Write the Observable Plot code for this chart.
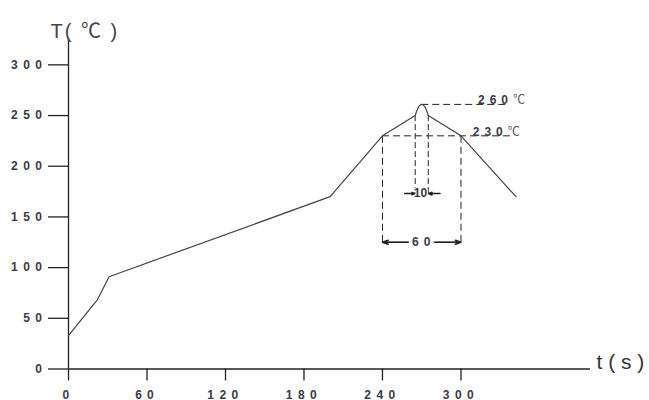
<!DOCTYPE html>
<html>
<head>
<meta charset="utf-8">
<script src="https://cdn.jsdelivr.net/npm/d3@7"></script>
<script src="https://cdn.jsdelivr.net/npm/@observablehq/plot@0.6"></script>
<style>
  html, body { margin: 0; padding: 0; background: #fff; }
  g[aria-label="y-axis tick label"] text,
  g[aria-label="x-axis tick label"] text { letter-spacing: 5.5px; }
</style>
</head>
<body>
<div id="chart"></div>
<script>
// Reflow profile: time (s) vs temperature (°C)
const time = [0, 20, 22, 31, 200, 240, 265, 266, 267.5, 269, 270, 271, 272.5, 274, 275, 300, 342];
const temp = [33, 65, 68, 91, 170, 230, 250, 254, 258.5, 260.5, 261, 260.5, 258.5, 254, 250, 230, 170];

const xTicks = [0, 60, 120, 180, 240, 300];
const yTicks = [0, 50, 100, 150, 200, 250, 300];

// Annotation values
const peakTemp = 261;
const plateauTemp = 230;
const windowStart = 240, windowEnd = 300;   // 60 s above 230 °C
const peakStart = 265, peakEnd = 275;       // 10 s near peak
const peakTime = 270;
const peakLineEnd = 335, plateauLineEnd = 340;
const dim10Level = 173, dim60Level = 125;
const peakLabel = "260℃", plateauLabel = "230℃";
const dim60Label = "60", dim10Label = "10";
const peakLabelAt = 313, plateauLabelAt = 309;
const yTitle = "T( ℃ )", xTitle = "t ( s )";

const profile = time.map((t, i) => ({t, T: temp[i]}));

const dash = "7,4";
const ink = "#222";
const labelInk = "#3a3a48";

const chart = Plot.plot({
  width: 649,
  height: 400,
  marginLeft: 68,
  marginRight: 59,
  marginTop: 38,
  marginBottom: 31.5,
  x: {domain: [0, 399]},
  y: {domain: [0, 326]},
  style: {background: "white", fontFamily: "'Liberation Sans', Arial, sans-serif", overflow: "visible"},
  marks: [
    Plot.axisY({ticks: yTicks, tickSize: 20, tickPadding: 1, label: null, fontSize: 12, fontWeight: "bold", fill: labelInk, stroke: ink, strokeWidth: 1.3}),
    Plot.axisX({ticks: xTicks, tickSize: 12, tickPadding: 9, label: null, fontSize: 12, fontWeight: "bold", fill: labelInk, stroke: ink, strokeWidth: 1.3}),
    Plot.ruleX([0], {stroke: ink, strokeWidth: 1.3}),
    Plot.ruleY([0], {stroke: ink, strokeWidth: 1.3}),
    // dashed guides
    Plot.ruleY([peakTemp], {x1: peakTime, x2: peakLineEnd, stroke: ink, strokeDasharray: dash}),
    Plot.ruleY([plateauTemp], {x1: windowStart, x2: plateauLineEnd, stroke: ink, strokeDasharray: dash}),
    Plot.ruleX([windowStart, windowEnd], {y1: dim60Level, y2: plateauTemp, stroke: ink, strokeDasharray: dash}),
    Plot.ruleX([peakStart, peakEnd], {y1: dim10Level, y2: 250, stroke: ink, strokeDasharray: "6,3"}),
    // profile curve
    Plot.line(profile, {x: "t", y: "T", stroke: "#444", strokeWidth: 1.2}),
    // dimension 60
    Plot.ruleY([dim60Level], {x1: windowStart, x2: windowEnd, stroke: ink}),
    Plot.arrow([{a: windowStart + 20, b: windowStart}, {a: windowEnd - 20, b: windowEnd}],
      {x1: "a", x2: "b", y1: dim60Level, y2: dim60Level, stroke: ink, headLength: 6, headAngle: 40}),
    Plot.text([dim60Label], {x: (windowStart + windowEnd) / 2, y: dim60Level, dx: 2, fontSize: 12, fontWeight: "bold", fill: labelInk, stroke: "white", strokeWidth: 7, paintOrder: "stroke"}),
    // dimension 10
    Plot.arrow([{a: peakStart - 8, b: peakStart}, {a: peakEnd + 9, b: peakEnd}],
      {x1: "a", x2: "b", y1: dim10Level, y2: dim10Level, stroke: ink, headLength: 6, headAngle: 40}),
    Plot.text([dim10Label], {x: peakTime - 1, y: dim10Level, fontSize: 12, fontWeight: "bold", fill: labelInk, stroke: "white", strokeWidth: 2, paintOrder: "stroke"}),
    // temperature labels
    Plot.text([peakLabel], {x: peakLabelAt, y: peakTemp, textAnchor: "start", lineAnchor: "bottom", dy: 0, fontSize: 12, fontWeight: "bold", fill: labelInk}),
    Plot.text([plateauLabel], {x: plateauLabelAt, y: plateauTemp, textAnchor: "start", lineAnchor: "bottom", dy: 0, fontSize: 12, fontWeight: "bold", fill: labelInk}),
    // axis titles
    Plot.text([yTitle], {frameAnchor: "top-left", dx: -18, dy: -15, textAnchor: "start", fontSize: 20, fill: "#444"}),
    Plot.text([xTitle], {frameAnchor: "bottom-right", dx: 6, dy: 0, textAnchor: "start", fontSize: 21, fill: "#333"})
  ]
});

// typographic touches: letter spacing on annotation numbers, CJK-style ℃ glyph
const spaced = new Set([dim60Label, peakLabel, plateauLabel]);
d3.select(chart).selectAll("text").each(function() {
  const el = d3.select(this);
  const s = this.textContent;
  if (spaced.has(s)) el.style("letter-spacing", "5px");
  if (s === yTitle) el.style("letter-spacing", "2px");
  if (s.includes("℃") && this.children.length === 0) {
    const parts = s.split("℃");
    el.text(null);
    parts.forEach((p, i) => {
      if (p) el.append("tspan").text(p);
      if (i < parts.length - 1) {
        el.append("tspan")
          .attr("font-family", "'Noto Sans CJK SC', sans-serif")
          .attr("font-weight", "normal")
          .style("letter-spacing", s === yTitle ? "2px" : "0px")
          .attr("fill", s === yTitle ? "#444" : "#555")
          .text("℃");
      }
    });
  }
});

document.getElementById("chart").appendChild(chart);
</script>
</body>
</html>
